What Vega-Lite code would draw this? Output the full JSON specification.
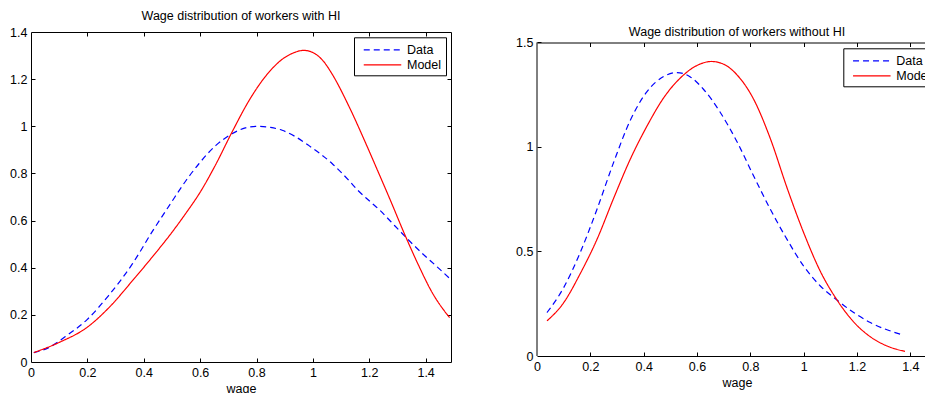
{
  "$schema": "https://vega.github.io/schema/vega-lite/v6.json",
  "padding": {"left": 9, "top": 9, "right": 0, "bottom": 0},
  "background": "white",
  "datasets": {
    "left": [
      {"wage": 0.01, "density": 0.04, "series": "Data"},
      {"wage": 0.063, "density": 0.061, "series": "Data"},
      {"wage": 0.122, "density": 0.108, "series": "Data"},
      {"wage": 0.199, "density": 0.18, "series": "Data"},
      {"wage": 0.276, "density": 0.283, "series": "Data"},
      {"wage": 0.359, "density": 0.415, "series": "Data"},
      {"wage": 0.43, "density": 0.553, "series": "Data"},
      {"wage": 0.495, "density": 0.672, "series": "Data"},
      {"wage": 0.55, "density": 0.77, "series": "Data"},
      {"wage": 0.595, "density": 0.84, "series": "Data"},
      {"wage": 0.655, "density": 0.918, "series": "Data"},
      {"wage": 0.713, "density": 0.968, "series": "Data"},
      {"wage": 0.76, "density": 0.993, "series": "Data"},
      {"wage": 0.805, "density": 1.0, "series": "Data"},
      {"wage": 0.85, "density": 0.995, "series": "Data"},
      {"wage": 0.891, "density": 0.983, "series": "Data"},
      {"wage": 0.935, "density": 0.958, "series": "Data"},
      {"wage": 0.985, "density": 0.919, "series": "Data"},
      {"wage": 1.068, "density": 0.842, "series": "Data"},
      {"wage": 1.127, "density": 0.771, "series": "Data"},
      {"wage": 1.159, "density": 0.729, "series": "Data"},
      {"wage": 1.2, "density": 0.684, "series": "Data"},
      {"wage": 1.24, "density": 0.641, "series": "Data"},
      {"wage": 1.277, "density": 0.595, "series": "Data"},
      {"wage": 1.313, "density": 0.55, "series": "Data"},
      {"wage": 1.354, "density": 0.5, "series": "Data"},
      {"wage": 1.396, "density": 0.452, "series": "Data"},
      {"wage": 1.435, "density": 0.41, "series": "Data"},
      {"wage": 1.485, "density": 0.355, "series": "Data"},
      {"wage": 0.01, "density": 0.04, "series": "Model"},
      {"wage": 0.1, "density": 0.083, "series": "Model"},
      {"wage": 0.2, "density": 0.148, "series": "Model"},
      {"wage": 0.28, "density": 0.235, "series": "Model"},
      {"wage": 0.36, "density": 0.345, "series": "Model"},
      {"wage": 0.43, "density": 0.445, "series": "Model"},
      {"wage": 0.5, "density": 0.55, "series": "Model"},
      {"wage": 0.55, "density": 0.632, "series": "Model"},
      {"wage": 0.6, "density": 0.72, "series": "Model"},
      {"wage": 0.655, "density": 0.837, "series": "Model"},
      {"wage": 0.713, "density": 0.975, "series": "Model"},
      {"wage": 0.773, "density": 1.108, "series": "Model"},
      {"wage": 0.832, "density": 1.212, "series": "Model"},
      {"wage": 0.891, "density": 1.284, "series": "Model"},
      {"wage": 0.93, "density": 1.311, "series": "Model"},
      {"wage": 0.968, "density": 1.322, "series": "Model"},
      {"wage": 1.01, "density": 1.306, "series": "Model"},
      {"wage": 1.04, "density": 1.272, "series": "Model"},
      {"wage": 1.068, "density": 1.222, "series": "Model"},
      {"wage": 1.127, "density": 1.087, "series": "Model"},
      {"wage": 1.186, "density": 0.932, "series": "Model"},
      {"wage": 1.234, "density": 0.8, "series": "Model"},
      {"wage": 1.275, "density": 0.686, "series": "Model"},
      {"wage": 1.328, "density": 0.535, "series": "Model"},
      {"wage": 1.375, "density": 0.41, "series": "Model"},
      {"wage": 1.423, "density": 0.295, "series": "Model"},
      {"wage": 1.485, "density": 0.188, "series": "Model"}
    ],
    "right": [
      {"wage": 0.0375, "density": 0.208, "series": "Data"},
      {"wage": 0.1, "density": 0.327, "series": "Data"},
      {"wage": 0.162, "density": 0.495, "series": "Data"},
      {"wage": 0.225, "density": 0.702, "series": "Data"},
      {"wage": 0.287, "density": 0.925, "series": "Data"},
      {"wage": 0.35, "density": 1.128, "series": "Data"},
      {"wage": 0.4125, "density": 1.265, "series": "Data"},
      {"wage": 0.475, "density": 1.337, "series": "Data"},
      {"wage": 0.525, "density": 1.356, "series": "Data"},
      {"wage": 0.575, "density": 1.335, "series": "Data"},
      {"wage": 0.625, "density": 1.275, "series": "Data"},
      {"wage": 0.6875, "density": 1.165, "series": "Data"},
      {"wage": 0.75, "density": 1.025, "series": "Data"},
      {"wage": 0.8125, "density": 0.861, "series": "Data"},
      {"wage": 0.875, "density": 0.702, "series": "Data"},
      {"wage": 0.9375, "density": 0.558, "series": "Data"},
      {"wage": 1.0, "density": 0.43, "series": "Data"},
      {"wage": 1.0625, "density": 0.335, "series": "Data"},
      {"wage": 1.125, "density": 0.268, "series": "Data"},
      {"wage": 1.1875, "density": 0.208, "series": "Data"},
      {"wage": 1.25, "density": 0.16, "series": "Data"},
      {"wage": 1.3625, "density": 0.104, "series": "Data"},
      {"wage": 0.0375, "density": 0.168, "series": "Model"},
      {"wage": 0.1, "density": 0.255, "series": "Model"},
      {"wage": 0.1625, "density": 0.395, "series": "Model"},
      {"wage": 0.225, "density": 0.558, "series": "Model"},
      {"wage": 0.2875, "density": 0.755, "series": "Model"},
      {"wage": 0.35, "density": 0.942, "series": "Model"},
      {"wage": 0.4125, "density": 1.1, "series": "Model"},
      {"wage": 0.475, "density": 1.235, "series": "Model"},
      {"wage": 0.5375, "density": 1.33, "series": "Model"},
      {"wage": 0.6, "density": 1.39, "series": "Model"},
      {"wage": 0.655, "density": 1.409, "series": "Model"},
      {"wage": 0.7, "density": 1.396, "series": "Model"},
      {"wage": 0.75, "density": 1.345, "series": "Model"},
      {"wage": 0.8125, "density": 1.228, "series": "Model"},
      {"wage": 0.875, "density": 1.04, "series": "Model"},
      {"wage": 0.9375, "density": 0.805, "series": "Model"},
      {"wage": 1.0, "density": 0.59, "series": "Model"},
      {"wage": 1.0625, "density": 0.405, "series": "Model"},
      {"wage": 1.125, "density": 0.268, "series": "Model"},
      {"wage": 1.1875, "density": 0.163, "series": "Model"},
      {"wage": 1.25, "density": 0.092, "series": "Model"},
      {"wage": 1.3125, "density": 0.048, "series": "Model"},
      {"wage": 1.38, "density": 0.022, "series": "Model"}
    ],
    "frame": [
      {"x0": 0, "ylow": 0, "yhigh": 1.5}
    ]
  },
  "hconcat": [
    {
      "width": 420,
      "height": 330,
      "title": {"text": "Wage distribution of workers with HI", "offset": 4},
      "data": {"name": "left"},
      "layer": [
        {
          "mark": {"type": "line", "strokeWidth": 1.2, "interpolate": "monotone"},
          "encoding": {
            "x": {"field": "wage", "type": "quantitative", "scale": {"domain": [0, 1.49], "nice": false, "zero": false},
                  "axis": {"orient": "bottom", "values": [0, 0.2, 0.4, 0.6, 0.8, 1, 1.2, 1.4], "format": "~g", "title": "wage", "ticks": false}},
            "y": {"field": "density", "type": "quantitative", "scale": {"domain": [0, 1.4], "nice": false},
                  "axis": {"orient": "left", "values": [0, 0.2, 0.4, 0.6, 0.8, 1, 1.2, 1.4], "format": "~g", "title": null, "ticks": false}},
            "color": {"field": "series", "type": "nominal", "scale": {"domain": ["Data", "Model"], "range": ["#0000ff", "#ff0000"]},
                      "legend": {"title": null, "orient": "none", "legendX": 323, "legendY": 5.3}},
            "strokeDash": {"field": "series", "type": "nominal", "scale": {"domain": ["Data", "Model"], "range": [[6, 4], [1, 0]]},
                      "legend": {"title": null, "orient": "none", "legendX": 323, "legendY": 5.3}}
          }
        },
        {
          "mark": {"type": "line", "opacity": 0},
          "encoding": {
            "x": {"field": "wage", "type": "quantitative", "axis": {"orient": "top", "values": [0, 0.2, 0.4, 0.6, 0.8, 1, 1.2, 1.4], "labels": false, "ticks": false, "title": null}},
            "y": {"field": "density", "type": "quantitative", "axis": {"orient": "right", "values": [0, 0.2, 0.4, 0.6, 0.8, 1, 1.2, 1.4], "labels": false, "ticks": false, "title": null}},
            "detail": {"field": "series"}
          }
        },
        {
          "mark": {"type": "line", "opacity": 0},
          "encoding": {
            "x": {"field": "wage", "type": "quantitative", "axis": {"orient": "bottom", "offset": -4, "domain": false, "values": [0.2, 0.4, 0.6, 0.8, 1, 1.2, 1.4], "labels": false, "ticks": true, "tickSize": 4, "title": null}},
            "y": {"field": "density", "type": "quantitative", "axis": {"orient": "left", "offset": -4, "domain": false, "values": [0.2, 0.4, 0.6, 0.8, 1, 1.2], "labels": false, "ticks": true, "tickSize": 4, "title": null}},
            "detail": {"field": "series"}
          }
        },
        {
          "mark": {"type": "line", "opacity": 0},
          "encoding": {
            "x": {"field": "wage", "type": "quantitative", "axis": {"orient": "top", "offset": -4, "domain": false, "values": [0.2, 0.4, 0.6, 0.8, 1, 1.2, 1.4], "labels": false, "ticks": true, "tickSize": 4, "title": null}},
            "y": {"field": "density", "type": "quantitative", "axis": {"orient": "right", "offset": -4, "domain": false, "values": [0.2, 0.4, 0.6, 0.8, 1, 1.2], "labels": false, "ticks": true, "tickSize": 4, "title": null}},
            "detail": {"field": "series"}
          }
        }
      ],
      "resolve": {"axis": {"x": "independent", "y": "independent"}}
    },
    {
      "width": 400,
      "height": 324,
      "title": {"text": "Wage distribution of workers without HI", "offset": -6.5},
      "layer": [
        {
          "data": {"name": "right"},
          "mark": {"type": "line", "strokeWidth": 1.2, "interpolate": "monotone"},
          "encoding": {
            "x": {"field": "wage", "type": "quantitative", "scale": {"domain": [0, 1.5], "nice": false, "zero": false},
                  "axis": {"orient": "bottom", "values": [0, 0.2, 0.4, 0.6, 0.8, 1, 1.2, 1.4], "format": "~g", "title": "wage", "ticks": false}},
            "y": {"field": "density", "type": "quantitative", "scale": {"domain": [0, 1.55], "nice": false},
                  "axis": {"orient": "left", "values": [0, 0.5, 1, 1.5], "format": "~g", "title": null, "domain": false, "ticks": false}},
            "color": {"field": "series", "type": "nominal", "scale": {"domain": ["Data", "Model"], "range": ["#0000ff", "#ff0000"]},
                      "legend": {"title": null, "orient": "none", "legendX": 306.3, "legendY": 16.3}},
            "strokeDash": {"field": "series", "type": "nominal", "scale": {"domain": ["Data", "Model"], "range": [[6, 4], [1, 0]]},
                      "legend": {"title": null, "orient": "none", "legendX": 306.3, "legendY": 16.3}}
          }
        },
        {
          "data": {"name": "right"},
          "mark": {"type": "line", "opacity": 0},
          "encoding": {
            "x": {"field": "wage", "type": "quantitative", "axis": {"orient": "top", "offset": -10.5, "values": [0, 0.2, 0.4, 0.6, 0.8, 1, 1.2, 1.4], "labels": false, "ticks": false, "title": null}},
            "y": {"field": "density", "type": "quantitative", "axis": null},
            "detail": {"field": "series"}
          }
        },
        {
          "data": {"name": "right"},
          "mark": {"type": "line", "opacity": 0},
          "encoding": {
            "x": {"field": "wage", "type": "quantitative", "axis": {"orient": "bottom", "offset": -4, "domain": false, "values": [0.2, 0.4, 0.6, 0.8, 1, 1.2, 1.4], "labels": false, "ticks": true, "tickSize": 4, "title": null}},
            "y": {"field": "density", "type": "quantitative", "axis": {"orient": "left", "offset": -4, "domain": false, "values": [0.5, 1, 1.5], "labels": false, "ticks": true, "tickSize": 4, "title": null}},
            "detail": {"field": "series"}
          }
        },
        {
          "data": {"name": "right"},
          "mark": {"type": "line", "opacity": 0},
          "encoding": {
            "x": {"field": "wage", "type": "quantitative", "axis": {"orient": "top", "offset": -14.5, "domain": false, "values": [0.2, 0.4, 0.6, 0.8, 1, 1.2, 1.4], "labels": false, "ticks": true, "tickSize": 4, "title": null}},
            "y": {"field": "density", "type": "quantitative", "axis": null},
            "detail": {"field": "series"}
          }
        },
        {
          "data": {"name": "frame"},
          "mark": {"type": "rule", "color": "black", "strokeWidth": 1},
          "encoding": {
            "x": {"field": "x0", "type": "quantitative", "axis": null},
            "y": {"field": "ylow", "type": "quantitative", "axis": null},
            "y2": {"field": "yhigh"}
          }
        }
      ],
      "resolve": {"axis": {"x": "independent", "y": "independent"}}
    }
  ],
  "spacing": 63,
  "resolve": {
    "scale": {"color": "independent", "strokeDash": "independent"},
    "legend": {"color": "independent", "strokeDash": "independent"}
  },
  "config": {
    "view": {"stroke": null},
    "font": "Liberation Sans",
    "title": {"font": "Liberation Sans", "fontSize": 12.5, "fontWeight": "normal", "color": "black", "anchor": "middle"},
    "axis": {
      "domainColor": "black", "tickColor": "black", "labelColor": "black", "titleColor": "black",
      "labelFont": "Liberation Sans", "titleFont": "Liberation Sans", "labelFontSize": 12.5, "titleFontSize": 12.5,
      "titleFontWeight": "normal", "grid": false, "tickSize": 4, "labelPadding": 4, "titlePadding": 4,
      "domainWidth": 1, "tickWidth": 1, "labelFlush": false
    },
    "legend": {
      "strokeColor": "black", "fillColor": "white", "padding": 4,
      "labelFont": "Liberation Sans", "labelFontSize": 12.5, "labelColor": "black",
      "symbolType": "M-2.5,0L2.5,0", "symbolSize": 225, "symbolStrokeWidth": 1.2, "symbolOffset": 16,
      "labelOffset": 16, "rowPadding": 0, "cornerRadius": 0
    }
  }
}
